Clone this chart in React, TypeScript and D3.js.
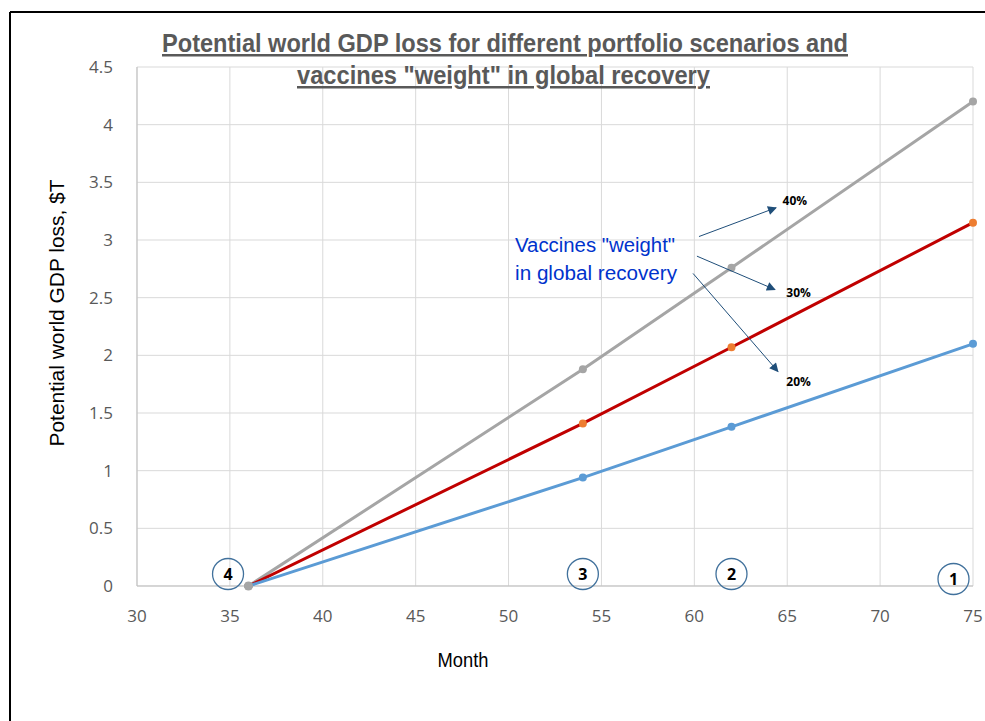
import React from 'react';
import * as d3 from 'd3';

// scenario months and GDP loss ($T) per vaccine weight
const months = [36, 54, 62, 75];
const loss40 = [0, 1.88, 2.76, 4.2];
const loss30 = [0, 1.41, 2.07, 3.15];
const loss20 = [0, 0.94, 1.38, 2.1];

const xTicks = [30, 35, 40, 45, 50, 55, 60, 65, 70, 75];
const yTicks = [0, 0.5, 1, 1.5, 2, 2.5, 3, 3.5, 4, 4.5];

const scenarioLabels = ['4', '3', '2', '1'];
const scenarioMonths = [34.9, 54, 62, 73.95];

const weightLabels = ['40%', '30%', '20%'];

const series = [
    {name: '40%', values: loss40, line: '#a5a5a5', dot: '#a5a5a5'},
    {name: '30%', values: loss30, line: '#c00000', dot: '#ed7d31'},
    {name: '20%', values: loss20, line: '#5b9bd5', dot: '#5b9bd5'}
];

const W = 985;
const H = 721;
const margin = {top: 67, right: 12, bottom: 135, left: 137};
const narrow = '"Liberation Sans", Arial, sans-serif';
const sans = '"Open Sans", "DejaVu Sans", sans-serif';

export default function App()
{
    const w = W - margin.left - margin.right;
    const h = H - margin.top - margin.bottom;

    const x = d3.scaleLinear().domain([30, 75]).range([0, w]);
    const y = d3.scaleLinear().domain([0, 4.5]).range([h, 0]);

    const line = d3.line<number>()
        .x((d, i) => x(months[i]))
        .y(d => y(d));

    // arrow starts (near the label) and ends, in data units
    const arrowFrom = [[60.25, 3.03], [60.14, 2.86], [59.93, 2.71]];
    const arrowTo = [[64.4, 3.28], [64.34, 2.57], [64.5, 1.86]];
    const labelAt = [[64.75, 3.34], [64.95, 2.54], [64.95, 1.77]];

    return (
        <div style={{position: 'absolute', left: 0, top: 0}}>
            <svg width={W} height={H} style={{display: 'block', background: '#fff'}}>
                <defs>
                    <marker id="arr" viewBox="0 0 10 10" refX="9" refY="5" markerWidth="10" markerHeight="9"
                            markerUnits="userSpaceOnUse" orient="auto">
                        <path d="M0,0 L10,5 L0,10 z" fill="#1f4e79"/>
                    </marker>
                </defs>
                <line x1={10} y1={12} x2={W} y2={12} stroke="#000" strokeWidth={2}/>
                <line x1={10} y1={12} x2={10} y2={H} stroke="#000" strokeWidth={2}/>

                <g transform={`translate(${margin.left},${margin.top})`}>
                    {xTicks.map(t => (
                        <line key={'gx' + t} x1={x(t)} x2={x(t)} y1={0} y2={h} stroke="#d9d9d9" strokeWidth={1}/>
                    ))}
                    {yTicks.map(t => (
                        <line key={'gy' + t} x1={0} x2={w} y1={y(t)} y2={y(t)} stroke="#d9d9d9" strokeWidth={1}/>
                    ))}
                    <line x1={0} x2={0} y1={0} y2={h} stroke="#bfbfbf"/>
                    <line x1={0} x2={w} y1={h} y2={h} stroke="#bfbfbf"/>

                    {yTicks.map(t => (
                        <text key={'ty' + t} x={-24} y={y(t)} dy="0.35em" textAnchor="end"
                              fontFamily={sans} fontSize={17} fill="#595959">{t}</text>
                    ))}
                    {xTicks.map(t => (
                        <text key={'tx' + t} x={x(t)} y={h + 30} dy="0.35em" textAnchor="middle"
                              fontFamily={sans} fontSize={17} fill="#595959">{t}</text>
                    ))}

                    {series.map(s => (
                        <g key={s.name}>
                            <path d={line(s.values) || ''} fill="none" stroke={s.line} strokeWidth={3}/>
                            {s.values.map((v, i) => (
                                <circle key={i} cx={x(months[i])} cy={y(v)} r={4} fill={s.dot}/>
                            ))}
                        </g>
                    ))}
                    <circle cx={x(months[0])} cy={y(0)} r={4.5} fill="#a5a5a5"/>

                    {scenarioLabels.map((lab, i) => (
                        <g key={'sc' + lab} transform={`translate(${x(scenarioMonths[i])},${h - 12 + (i === 3 ? 5 : 0)})`}>
                            <circle r={15.5} fill="none" stroke="#41719c" strokeWidth={1.3}/>
                            <text dy="0.36em" textAnchor="middle" fontFamily={sans} fontWeight="bold" fontSize={16} fill="#000">{lab}</text>
                        </g>
                    ))}

                    {arrowFrom.map((p, i) => (
                        <line key={'ar' + i} x1={x(p[0])} y1={y(p[1])} x2={x(arrowTo[i][0])} y2={y(arrowTo[i][1])}
                              stroke="#1f4e79" strokeWidth={1} markerEnd="url(#arr)"/>
                    ))}
                    {weightLabels.map((lab, i) => (
                        <text key={'wl' + lab} x={x(labelAt[i][0])} y={y(labelAt[i][1])}
                              dy="0.35em" fontFamily={sans} fontWeight="bold" fontSize={12} fill="#000">{lab}</text>
                    ))}
                    <text fontFamily={narrow} fontSize={20} fill="#0033cc">
                        <tspan x={x(50.35)} y={y(2.96)} dy="0.35em" textLength={160} lengthAdjust="spacingAndGlyphs">Vaccines "weight"</tspan>
                        <tspan x={x(50.35)} y={y(2.71)} dy="0.35em" textLength={162} lengthAdjust="spacingAndGlyphs">in global recovery</tspan>
                    </text>
                </g>

                <text textAnchor="middle" fontFamily={narrow} fontWeight="bold" fontSize={25} fill="#595959" textDecoration="underline">
                    <tspan x={505} y={52} textLength={686} lengthAdjust="spacingAndGlyphs">Potential world GDP loss for different portfolio scenarios and</tspan>
                    <tspan x={503.5} y={84} textLength={413} lengthAdjust="spacingAndGlyphs">vaccines "weight" in global recovery</tspan>
                </text>

                <text x={463} y={660} dy="0.35em" textAnchor="middle" fontFamily={narrow} fontSize={20} fill="#000"
                      textLength={51} lengthAdjust="spacingAndGlyphs">Month</text>
                <text transform="translate(57,313) rotate(-90)" dy="0.35em" textAnchor="middle" fontFamily={narrow} fontSize={20} fill="#000"
                      textLength={267} lengthAdjust="spacingAndGlyphs">Potential world GDP loss, $T</text>
            </svg>
        </div>
    );
}
